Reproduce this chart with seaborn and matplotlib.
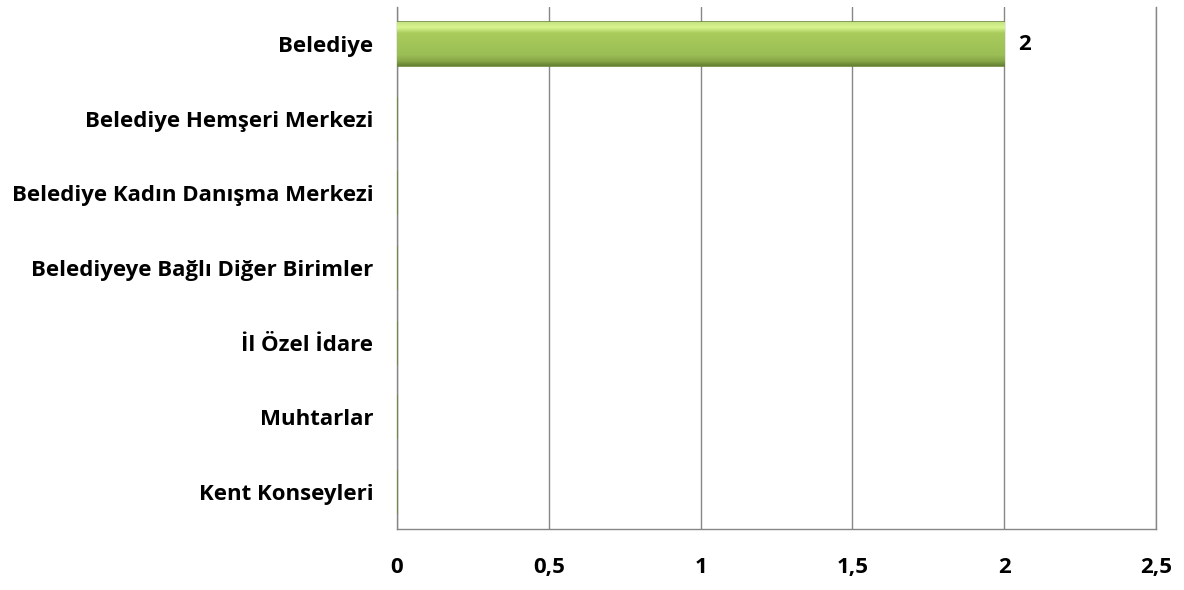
import matplotlib
matplotlib.use("Agg")
import matplotlib.pyplot as plt
import seaborn as sns
import numpy as np
import pandas as pd
from matplotlib.ticker import FuncFormatter, MultipleLocator
from matplotlib.colors import LinearSegmentedColormap

categories = ["Belediye", "Belediye Hemşeri Merkezi", "Belediye Kadın Danışma Merkezi",
              "Belediyeye Bağlı Diğer Birimler", "İl Özel İdare", "Muhtarlar", "Kent Konseyleri"]
values = [2, 0, 0, 0, 0, 0, 0]

df = pd.DataFrame({"cat": categories, "val": values})

sns.set_theme(style="white")
plt.rcParams['font.family'] = ['Open Sans', 'DejaVu Sans']

fig = plt.figure(figsize=(11.84, 5.9), dpi=100)
ax = fig.add_axes([397/1184, 1 - 529/590, (1156 - 397)/1184, (529 - 7)/590])

sns.barplot(data=df, x="val", y="cat", orient="h", color="#9BBB59", width=0.59,
            edgecolor="#6E8A38", linewidth=1.2, ax=ax, zorder=3)

# gradient overlay on bars
grad = np.linspace(0, 1, 256).reshape(-1, 1)
cmap = LinearSegmentedColormap.from_list("g", [(0, "#C6E383"), (0.12, "#D8F590"), (0.25, "#A9CB5C"),
                                               (0.75, "#9BBE55"), (0.9, "#84A446"), (1, "#637F32")])
for p in ax.patches:
    w = p.get_width()
    if w <= 0:
        continue
    x0, y0, h = p.get_x(), p.get_y(), p.get_height()
    im = ax.imshow(grad, extent=[x0, x0 + w, y0 + h, y0], aspect="auto", cmap=cmap,
                   zorder=3.5, origin="upper")
    im.set_clip_path(p)
    ax.text(x0 + w + 0.045, y0 + h / 2, f"{w:g}", va="center", ha="left",
            fontsize=16, fontweight="bold", color="black")

ax.set_xlim(0, 2.5)
ax.set_ylim(6.5, -0.5)
ax.xaxis.set_major_locator(MultipleLocator(0.5))
ax.xaxis.set_major_formatter(FuncFormatter(lambda v, p: f"{v:g}".replace(".", ",")))
ax.grid(axis="x", color="#868686", linewidth=1.0, zorder=0)
ax.set_axisbelow(True)
for s in ["left", "bottom", "right"]:
    ax.spines[s].set_visible(True)
    ax.spines[s].set_color("#868686")
    ax.spines[s].set_linewidth(1.0)
ax.spines["top"].set_visible(False)
ax.set_xlabel("")
ax.set_ylabel("")
ax.tick_params(axis="x", length=0, pad=20, labelsize=16)
ax.tick_params(axis="y", length=0, pad=17, labelsize=16)
for lbl in ax.get_xticklabels() + ax.get_yticklabels():
    lbl.set_fontweight("bold")
    lbl.set_color("black")

fig.savefig("out.png", dpi=100)
